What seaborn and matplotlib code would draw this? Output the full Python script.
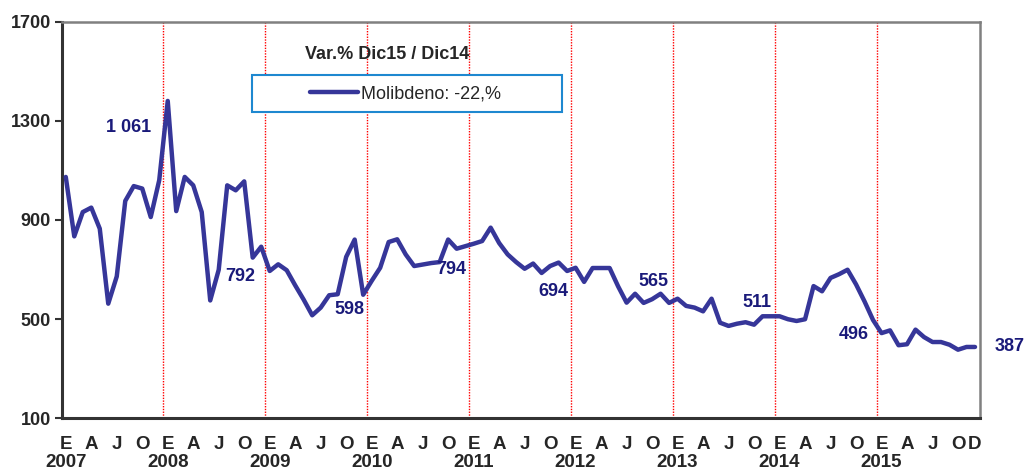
import numpy as np
import pandas as pd
import matplotlib.pyplot as plt
import seaborn as sns
from matplotlib.patches import Rectangle
from matplotlib.transforms import blended_transform_factory

# Molybdenum price, monthly Jan 2007 - Dec 2015 (E = enero)
years = list(range(2007, 2016))
month_letters = ["E", "A", "J", "O"]
molibdeno = [
    1074, 834, 932, 950, 865, 562, 672, 977, 1037, 1027, 912, 1061,
    1381, 936, 1074, 1040, 932, 575, 699, 1040, 1020, 1056, 748, 792,
    694, 721, 697, 636, 578, 515, 546, 596, 600, 751, 821, 598,
    654, 707, 811, 822, 761, 714, 720, 726, 730, 821, 784, 794,
    804, 815, 869, 807, 761, 730, 703, 724, 686, 714, 728, 694,
    707, 650, 706, 706, 706, 632, 566, 602, 565, 580, 602, 565,
    582, 553, 546, 531, 582, 485, 472, 481, 487, 477, 511, 511,
    511, 499, 492, 499, 633, 612, 666, 681, 699, 640, 571, 496,
    443, 454, 394, 398, 457, 427, 407, 407, 396, 376, 387, 387,
]
legend_label = "Molibdeno: -22,%"
legend_title = "Var.% Dic15 / Dic14"
y_ticks = [100, 500, 900, 1300, 1700]

# december values get a label; offsets (pixels) per label
label_offsets = [(-31, 53), (-21, -30), (-14, -15), (-14, -23), (-14, -21),
                 (-16, 21), (-14, 14), (-19, -15), (35, 0)]

line_color = "#363699"
label_color = "#1a1a7a"
narrow = ["Liberation Sans Narrow", "Liberation Sans", "DejaVu Sans"]

df = pd.DataFrame({"mes": np.arange(len(molibdeno)), "precio": molibdeno})

sns.set_style("white")
plt.rcParams["font.family"] = ["Liberation Sans", "DejaVu Sans"]

fig = plt.figure(figsize=(10.27, 4.72), dpi=100)
ax = fig.add_axes([0.0604, 0.1144, 0.8936, 0.839])

# year separators
for k in range(1, len(years)):
    ax.axvline(12 * k - 0.5, color="#ff0000", lw=1.0, ls=(0, (1, 1)), zorder=1)

sns.lineplot(data=df, x="mes", y="precio", color=line_color, lw=3.2,
             label=legend_label, ax=ax, zorder=3)

# december labels
for (dx, dy), m in zip(label_offsets, range(11, len(molibdeno), 12)):
    v = molibdeno[m]
    txt = f"{v:,}".replace(",", " ")
    ax.annotate(txt, xy=(m, v), xytext=(dx, dy), textcoords="offset pixels",
                ha="center", va="center", fontsize=13, fontweight="bold",
                color=label_color)

ax.set_xlim(-0.44, 107.56)
ax.set_ylim(100, 1700)
ax.set_yticks(y_ticks)
ax.set_yticklabels([str(t) for t in y_ticks], fontweight="bold",
                   fontsize=13, family=narrow)
ax.tick_params(axis="y", left=True, length=5, width=1.5, color="#333333", pad=3)

xt = list(range(0, len(molibdeno) - 2, 3)) + [len(molibdeno) - 1]
xl = [month_letters[(t % 12) // 3] for t in xt[:-1]] + ["D"]
ax.set_xticks(xt)
ax.set_xticklabels(xl, fontweight="bold", fontsize=13.5, family=narrow)
ax.tick_params(axis="x", bottom=True, length=0, pad=13)

trans = blended_transform_factory(ax.transData, ax.transAxes)
for k, yr in enumerate(years):
    ax.text(12 * k, -0.113, str(yr), transform=trans, ha="center", va="center",
            fontsize=13.5, fontweight="bold", family=narrow)

ax.set_xlabel("")
ax.set_ylabel("")

for side in ["top", "right"]:
    ax.spines[side].set_color("#808080")
    ax.spines[side].set_linewidth(1.8)
for side in ["left", "bottom"]:
    ax.spines[side].set_color("#333333")
    ax.spines[side].set_linewidth(2.2)

# legend box drawn separately so the entry can sit inside with its left margin
ax.add_patch(Rectangle((0.207, 0.773), 0.338, 0.093, transform=ax.transAxes,
                       facecolor="white", edgecolor="#1e88d0", lw=1.5, zorder=4))
leg = ax.legend(loc="center left", bbox_to_anchor=(0.270, 0.819),
                frameon=False, fontsize=13, handlelength=2.65,
                handletextpad=0.2, borderpad=0, borderaxespad=0)
leg.set_zorder(5)

ax.text(0.354, 0.917, legend_title, transform=ax.transAxes, ha="center",
        va="center", fontsize=13, fontweight="bold", family=narrow)

fig.savefig("out.png", dpi=100)
